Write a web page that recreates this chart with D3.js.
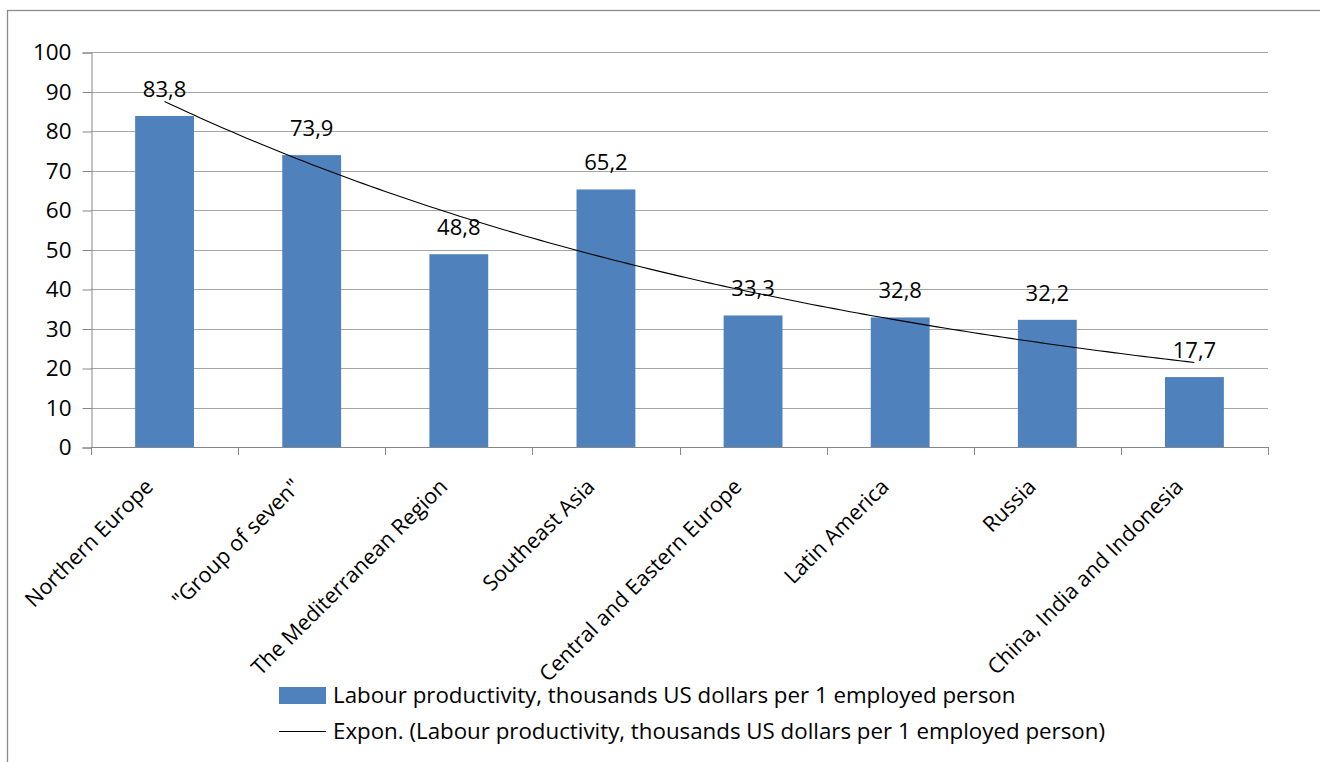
<!DOCTYPE html>
<html>
<head>
<meta charset="utf-8">
<script src="https://cdn.jsdelivr.net/npm/d3@7/dist/d3.min.js"></script>
<style>
  html, body { margin: 0; padding: 0; background: #fff; }
  svg { display: block; font-family: "Open Sans", sans-serif; }
</style>
</head>
<body>
<svg id="chart" width="1320" height="762"></svg>
<script>
const categories = ["Northern Europe", "\"Group of seven\"", "The Mediterranean Region", "Southeast Asia",
  "Central and Eastern Europe", "Latin America", "Russia", "China, India and Indonesia"];
const values = [83.8, 73.9, 48.8, 65.2, 33.3, 32.8, 32.2, 17.7];
const valueLabels = ["83,8", "73,9", "48,8", "65,2", "33,3", "32,8", "32,2", "17,7"];
const yTicks = [0, 10, 20, 30, 40, 50, 60, 70, 80, 90, 100];
const seriesName = "Labour productivity, thousands US dollars per 1 employed person";
const trendName = "Expon. (Labour productivity, thousands US dollars per 1 employed person)";

(function () {
const svg = d3.select("#chart");
const pLeft = 91, pRight = 1268, pTop = 52, pBottom = 447;

// outer chart border (only top and left visible)
svg.append("rect").attr("x", 7.5).attr("y", 10.5).attr("width", 1400).attr("height", 900)
  .attr("fill", "none").attr("stroke", "#8c8c8c").attr("stroke-width", 1.3);

const x = d3.scaleBand().domain(categories).range([pLeft, pRight]).paddingInner(0.6).paddingOuter(0.3);
const y = d3.scaleLinear().domain([0, 100]).range([pBottom, pTop]);

// gridlines
svg.append("g").selectAll("line").data(yTicks.filter(d => d > 0)).join("line")
  .attr("x1", pLeft).attr("x2", pRight)
  .attr("y1", d => Math.round(y(d)) + 0.5).attr("y2", d => Math.round(y(d)) + 0.5)
  .attr("stroke", "#a6a6a6").attr("stroke-width", 1);

// y axis
const yAxis = d3.axisLeft(y).tickValues(yTicks).tickSize(9).tickPadding(11).tickFormat(d3.format("d"));
const gy = svg.append("g").attr("transform", `translate(${pLeft + 0.5},0.5)`).call(yAxis);
gy.selectAll("path, line").attr("stroke", "#868686");
gy.selectAll("text").attr("font-size", 22.5).attr("fill", "#000").attr("font-family", "Open Sans");

// bars
svg.append("g").selectAll("rect").data(values).join("rect")
  .attr("x", (d, i) => x(categories[i]))
  .attr("y", d => y(d))
  .attr("width", x.bandwidth())
  .attr("height", d => y(0) - y(d))
  .attr("fill", "#4f81bd");

// x axis (ticks at band boundaries)
const step = x.step();
const bounds = d3.range(categories.length + 1).map(i => pLeft + i * step);
const gx = svg.append("g");
gx.append("line").attr("x1", pLeft).attr("x2", pRight).attr("y1", pBottom + 0.5).attr("y2", pBottom + 0.5)
  .attr("stroke", "#868686");
gx.selectAll("line.t").data(bounds).join("line").attr("class", "t")
  .attr("x1", d => Math.round(d) + 0.5).attr("x2", d => Math.round(d) + 0.5)
  .attr("y1", pBottom).attr("y2", pBottom + 8).attr("stroke", "#868686");
gx.selectAll("text").data(categories).join("text")
  .attr("transform", d => `translate(${x(d) + x.bandwidth() / 2 - 10},${pBottom + 41}) rotate(-45)`)
  .attr("text-anchor", "end")
  .attr("font-size", 21.5)
  .attr("fill", "#000")
  .text(d => d);

// exponential trendline (least-squares fit on ln(values))
const n = values.length;
const xs = d3.range(1, n + 1);
const lv = values.map(Math.log);
const mx = d3.mean(xs), ml = d3.mean(lv);
const b = d3.sum(xs.map((xi, i) => (xi - mx) * (lv[i] - ml))) / d3.sum(xs.map(xi => (xi - mx) ** 2));
const a = ml - b * mx;
const xc = i => x(categories[0]) + x.bandwidth() / 2 + (i - 1) * step;
const pts = d3.range(1, n + 0.001, 0.05).map(t => [xc(t), y(Math.exp(a + b * t))]);
svg.append("path").attr("d", d3.line()(pts)).attr("fill", "none").attr("stroke", "#000").attr("stroke-width", 1.1);

// data labels
svg.append("g").selectAll("text").data(values).join("text")
  .attr("x", (d, i) => x(categories[i]) + x.bandwidth() / 2)
  .attr("y", d => y(d) - 19)
  .attr("text-anchor", "middle")
  .attr("font-size", 22)
  .attr("fill", "#000")
  .text((d, i) => valueLabels[i]);

// legend
const lg = svg.append("g");
lg.append("rect").attr("x", 279).attr("y", 687).attr("width", 47).attr("height", 17).attr("fill", "#4f81bd");
lg.append("text").attr("x", 333).attr("y", 703).attr("font-size", 22.3).text(seriesName);
lg.append("line").attr("x1", 279).attr("x2", 326).attr("y1", 731.5).attr("y2", 731.5).attr("stroke", "#000").attr("stroke-width", 1.1);
lg.append("text").attr("x", 333).attr("y", 739).attr("font-size", 22.3).text(trendName);
})();
</script>
</body>
</html>
